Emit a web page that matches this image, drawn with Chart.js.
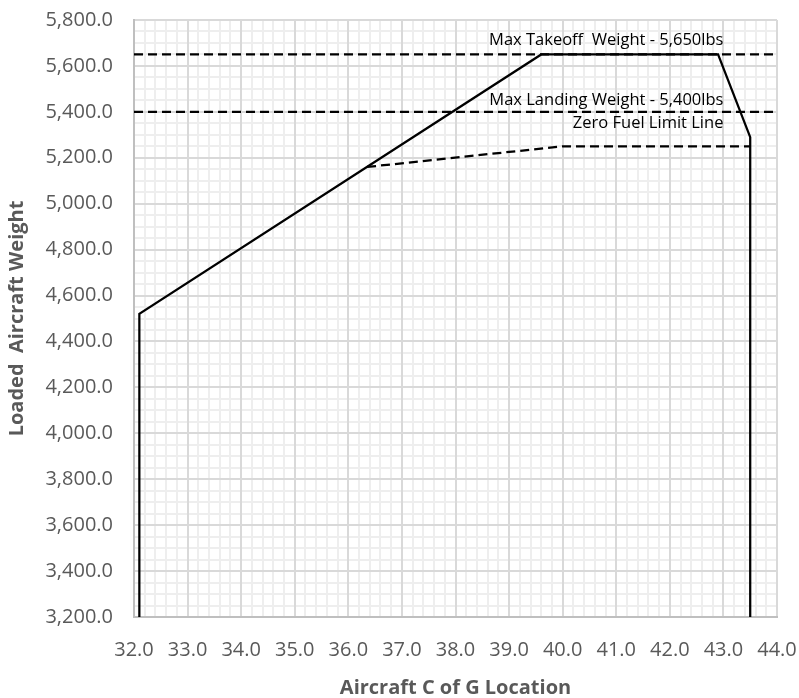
<!DOCTYPE html>
<html>
<head>
<meta charset="utf-8">
<title>Weight and Balance Envelope</title>
<script src="https://cdn.jsdelivr.net/npm/chart.js@4.4.0/dist/chart.umd.min.js"></script>
<style>
  body { margin: 0; background: #fff; }
  #chart { display: block; }
</style>
</head>
<body>
<canvas id="chart" width="799" height="698"></canvas>
<script>
// CG envelope outline
const envelopeX = [32.1, 32.1, 39.6, 42.9, 43.5, 43.5];
const envelopeY = [3200, 4520, 5650, 5650, 5290, 3200];

// zero fuel limit (dashed)
const zeroFuelX = [36.35, 40.0, 43.5];
const zeroFuelY = [5160, 5250, 5250];

// max weight lines
const maxTakeoffX = [32, 44];
const maxTakeoffY = [5650, 5650];
const maxLandingX = [32, 44];
const maxLandingY = [5400, 5400];

// text notes on the chart
const noteText = ['Max Takeoff  Weight - 5,650lbs', 'Max Landing Weight - 5,400lbs', 'Zero Fuel Limit Line'];
const noteX = [43.0, 43.0, 43.0];
const noteY = [5710, 5450, 5350];

const xMin = 32, xMax = 44, xStep = 1, xMinorStep = 0.2;
const yMin = 3200, yMax = 5800, yStep = 200, yMinorStep = 50;

const xTitle = 'Aircraft C of G Location';
const yTitle = 'Loaded  Aircraft Weight';

const toPoints = (xs, ys) => xs.map((x, i) => ({ x: x, y: ys[i] }));

lineSet = (xs, ys, dashed) => {
    return {
        data: toPoints(xs, ys),
        showLine: true,
        borderColor: '#000',
        borderWidth: 2.25,
        borderDash: dashed ? [9, 5] : [],
        pointRadius: 0,
        tension: 0,
        fill: false
    };
};

const notesPlugin = {
    id: 'notes',
    afterDatasetsDraw(chart) {
        const ctx = chart.ctx;
        const xs = chart.scales.x, ys = chart.scales.y;
        ctx.save();
        ctx.font = '16.5px "Open Sans"';
        ctx.fillStyle = '#000';
        ctx.textAlign = 'right';
        ctx.textBaseline = 'middle';
        for (let i = 0; i < noteText.length; i++) {
            ctx.fillText(noteText[i], xs.getPixelForValue(noteX[i]), ys.getPixelForValue(noteY[i]));
        }
        ctx.restore();
    }
};

const tickFont = { family: 'Open Sans', size: 20 };
const titleFont = { family: 'Open Sans', size: 20, weight: 'bold', lineHeight: 1 };

const ctx = document.getElementById('chart').getContext('2d');
const myChart = new Chart(ctx, {
    type: 'scatter',
    data: {
        datasets: [
            lineSet(envelopeX, envelopeY, false),
            lineSet(zeroFuelX, zeroFuelY, true),
            lineSet(maxTakeoffX, maxTakeoffY, true),
            lineSet(maxLandingX, maxLandingY, true)
        ]
    },
    options: {
        responsive: false,
        animation: false,
        layout: { padding: { top: 20, right: 22, left: 0, bottom: 0 } },
        plugins: {
            legend: { display: false },
            tooltip: { enabled: false }
        },
        scales: {
            xMinor: {
                type: 'linear',
                position: 'bottom',
                min: xMin,
                max: xMax,
                ticks: { display: false, stepSize: xMinorStep },
                grid: { color: '#eeeeee', lineWidth: 2, drawTicks: false, z: -2 },
                border: { display: false },
                afterFit: (s) => { s.height = 0; s.paddingLeft = 0; s.paddingRight = 0; }
            },
            yMinor: {
                type: 'linear',
                position: 'left',
                min: yMin,
                max: yMax,
                ticks: { display: false, stepSize: yMinorStep },
                grid: { color: '#eeeeee', lineWidth: 2, drawTicks: false, z: -2 },
                border: { display: false },
                afterFit: (s) => { s.width = 0; s.paddingTop = 0; s.paddingBottom = 0; }
            },
            x: {
                type: 'linear',
                position: 'bottom',
                min: xMin,
                max: xMax,
                ticks: {
                    stepSize: xStep,
                    autoSkip: false,
                    maxRotation: 0,
                    padding: 21,
                    color: '#595959',
                    font: tickFont,
                    callback: (v) => v.toFixed(1)
                },
                grid: { color: '#d9d9d9', lineWidth: 2, drawTicks: false, z: -1 },
                border: { color: '#bfbfbf', width: 2 },
                title: {
                    display: true,
                    text: xTitle,
                    color: '#595959',
                    font: titleFont,
                    padding: { top: 0, bottom: 0 }
                },
                afterFit: (s) => { s.height = 81; s.paddingLeft = 0; s.paddingRight = 0; }
            },
            y: {
                type: 'linear',
                position: 'left',
                min: yMin,
                max: yMax,
                ticks: {
                    stepSize: yStep,
                    autoSkip: false,
                    padding: 21,
                    color: '#595959',
                    font: tickFont,
                    callback: (v) => v.toLocaleString('en-US', { minimumFractionDigits: 1, maximumFractionDigits: 1 })
                },
                grid: { color: '#d9d9d9', lineWidth: 2, drawTicks: false, z: -1 },
                border: { color: '#bfbfbf', width: 2 },
                title: {
                    display: true,
                    text: yTitle,
                    color: '#595959',
                    font: titleFont,
                    padding: { top: 7, bottom: 0 }
                },
                afterFit: (s) => { s.width = 134; s.paddingTop = 0; s.paddingBottom = 0; }
            }
        }
    },
    plugins: [notesPlugin]
});
</script>
</body>
</html>
